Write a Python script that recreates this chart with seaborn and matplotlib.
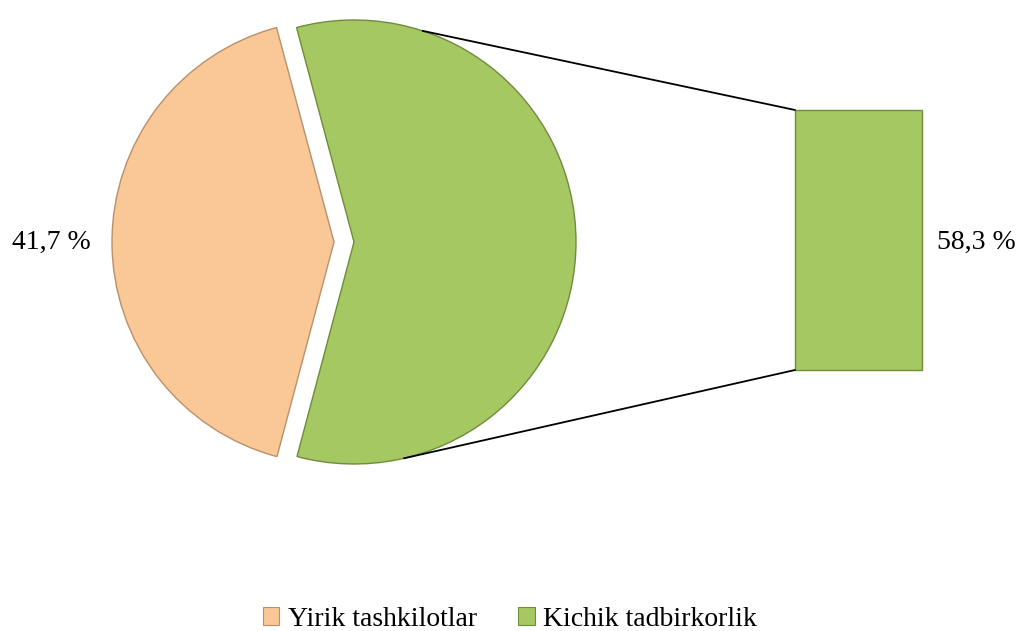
import matplotlib
matplotlib.use("Agg")
import matplotlib.pyplot as plt
import seaborn as sns
import numpy as np
import pandas as pd
from matplotlib.patches import Patch, ConnectionPatch

categories = ["Yirik tashkilotlar", "Kichik tadbirkorlik"]
shares = [41.7, 58.3]
colors = ["#FAC896", "#A5C863"]
edge_colors = ["#B8906A", "#6F8C3A"]

sns.set_theme(style="white")
plt.rcParams["font.family"] = ["Liberation Serif", "DejaVu Serif"]
plt.rcParams["text.color"] = "black"

W, H = 1020, 631
fig = plt.figure(figsize=(10.2, 6.31), dpi=100)
ax = fig.add_axes([0, 0, 1, 1])

cx, cy, r = 344, H - 242, 222
wedges, _ = ax.pie(shares, colors=colors, startangle=105, counterclock=True,
                   center=(cx, cy), radius=r, explode=[10, 10],
                   wedgeprops=dict(linewidth=1.0))
for w, ec in zip(wedges, edge_colors):
    w.set_edgecolor(ec)
ax.set_xlim(0, W)
ax.set_ylim(0, H)
ax.set_aspect("equal")
ax.axis("off")

# secondary bar
ax2 = fig.add_axes([795 / W, (H - 370) / H, 127 / W, 260 / H])
df = pd.DataFrame({"cat": [categories[1]], "val": [shares[1]]})
sns.barplot(data=df, x="cat", y="val", color=colors[1], width=1.0, ax=ax2,
            saturation=1, edgecolor=edge_colors[1], linewidth=1.0)
for p in ax2.patches:
    p.set_clip_on(False)
ax2.set_ylim(0, shares[1])
ax2.set_xlim(-0.5, 0.5)
ax2.axis("off")

# connector lines
gw = wedges[1]
gcx, gcy = gw.center
for ang, yb in [(72, shares[1]), (-77, 0)]:
    p = (gcx + gw.r * np.cos(np.radians(ang)), gcy + gw.r * np.sin(np.radians(ang)))
    con = ConnectionPatch(xyA=p, coordsA=ax.transData, xyB=(-0.5, yb),
                          coordsB=ax2.transData, color="black", linewidth=1.3)
    fig.add_artist(con)

def fmt(v):
    return f"{v:.1f} %".replace(".", ",")

ax.text(91, cy, fmt(shares[0]), ha="right", va="center", fontsize=20, color="black")
ax.text(937, cy, fmt(shares[1]), ha="left", va="center", fontsize=20, color="black")

handles = [Patch(facecolor=c, edgecolor=e, linewidth=0.8) for c, e in zip(colors, edge_colors)]
leg = fig.legend(handles, categories, loc="center", bbox_to_anchor=(0.5, (H - 619) / H),
                 ncol=2, frameon=False, fontsize=20, handlelength=0.6, handleheight=0.6,
                 handletextpad=0.3, columnspacing=1.5)
for t in leg.get_texts():
    t.set_color("black")

fig.savefig("out.png", dpi=100)
